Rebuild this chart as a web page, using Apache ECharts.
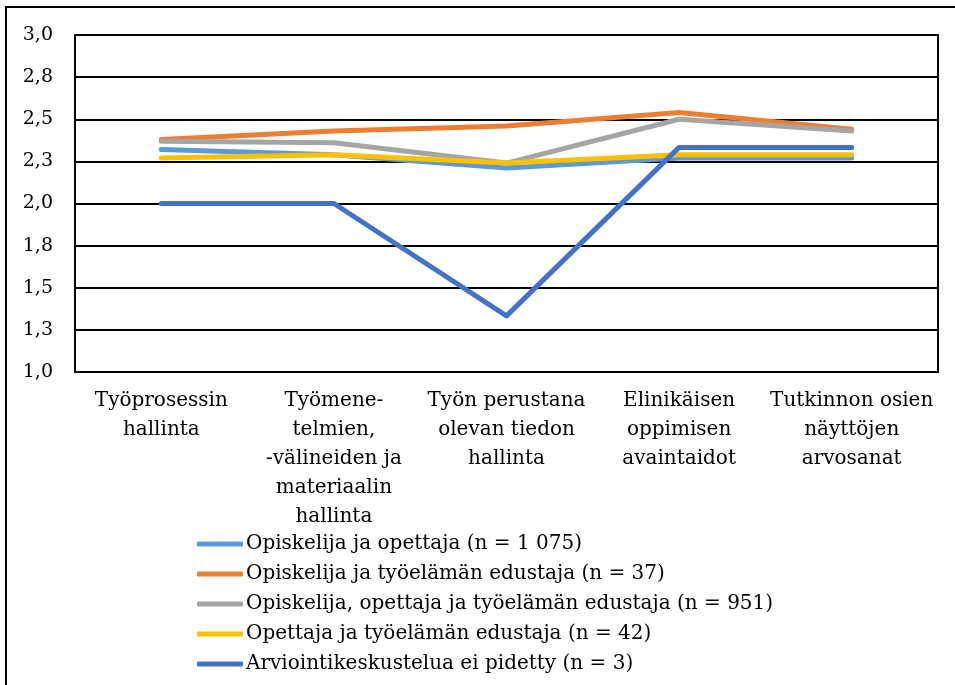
<!DOCTYPE html>
<html>
<head>
<meta charset="utf-8">
<script src="https://cdn.jsdelivr.net/npm/echarts@6/dist/echarts.min.js"></script>
<style>
html,body{margin:0;padding:0;background:#fff;}
#chart{width:955px;height:685px;}
</style>
</head>
<body>
<div id="chart"></div>
<script>
const categories = [
  "Työprosessin\nhallinta",
  "Työmene-\ntelmien,\n-välineiden ja\nmateriaalin\nhallinta",
  "Työn perustana\nolevan tiedon\nhallinta",
  "Elinikäisen\noppimisen\navaintaidot",
  "Tutkinnon osien\nnäyttöjen\narvosanat"
];
const seriesNames = [
  "Opiskelija ja opettaja (n = 1 075)",
  "Opiskelija ja työelämän edustaja (n = 37)",
  "Opiskelija, opettaja ja työelämän edustaja (n = 951)",
  "Opettaja ja työelämän edustaja (n = 42)",
  "Arviointikeskustelua ei pidetty (n = 3)"
];
const opiskelijaOpettaja = [2.32, 2.29, 2.21, 2.27, 2.27];
const opiskelijaTyoelama = [2.38, 2.43, 2.46, 2.54, 2.44];
const kaikkiKolme = [2.37, 2.36, 2.24, 2.50, 2.43];
const opettajaTyoelama = [2.27, 2.29, 2.24, 2.29, 2.29];
const eiPidetty = [2.00, 2.00, 1.333, 2.333, 2.333];
const colors = ["#5B9BD5", "#ED7D31", "#A5A5A5", "#FFC000", "#4472C4"];
const allValues = [opiskelijaOpettaja, opiskelijaTyoelama, kaikkiKolme, opettajaTyoelama, eiPidetty];

const FONT = "DejaVu Serif";
const chart = echarts.init(document.getElementById('chart'), null, {renderer: 'canvas'});
chart.setOption({
  animation: false,
  backgroundColor: '#fff',
  textStyle: {fontFamily: FONT, color: '#000'},
  graphic: [{
    type: 'rect', silent: true, z: 100,
    shape: {x: 6, y: 7, width: 980, height: 720},
    style: {fill: 'none', stroke: '#000', lineWidth: 2}
  }],
  grid: {
    left: 75, right: 17, top: 35, bottom: 313,
    show: true, borderColor: '#000', borderWidth: 2, backgroundColor: 'transparent'
  },
  legend: {
    orient: 'vertical',
    left: 192, top: 529,
    icon: 'roundRect',
    itemWidth: 46, itemHeight: 5, itemGap: 10,
    textStyle: {fontFamily: FONT, fontSize: 20, color: '#000', padding: [0,0,0,-2]},
    data: seriesNames
  },
  xAxis: {
    type: 'category',
    data: categories,
    boundaryGap: true,
    axisLine: {show: true, lineStyle: {color: '#000', width: 2}},
    axisTick: {show: false},
    axisLabel: {fontFamily: FONT, fontSize: 20, color: '#000', lineHeight: 29, margin: 14, interval: 0}
  },
  yAxis: {
    type: 'value',
    min: 1, max: 3, interval: 0.25,
    axisLine: {show: true, lineStyle: {color: '#000', width: 2}},
    axisTick: {show: false},
    splitLine: {show: true, lineStyle: {color: '#000', width: 2}},
    axisLabel: {
      fontFamily: FONT, fontSize: 19, color: '#000', margin: 22,
      formatter: v => v.toFixed(1).replace('.', ',')
    }
  },
  series: allValues.map((vals, i) => ({
    name: seriesNames[i],
    type: 'line',
    data: vals,
    symbol: 'none',
    color: colors[i],
    lineStyle: {color: colors[i], width: 5, cap: 'round', join: 'round'},
    z: 2 + i
  }))
});
</script>
</body>
</html>
